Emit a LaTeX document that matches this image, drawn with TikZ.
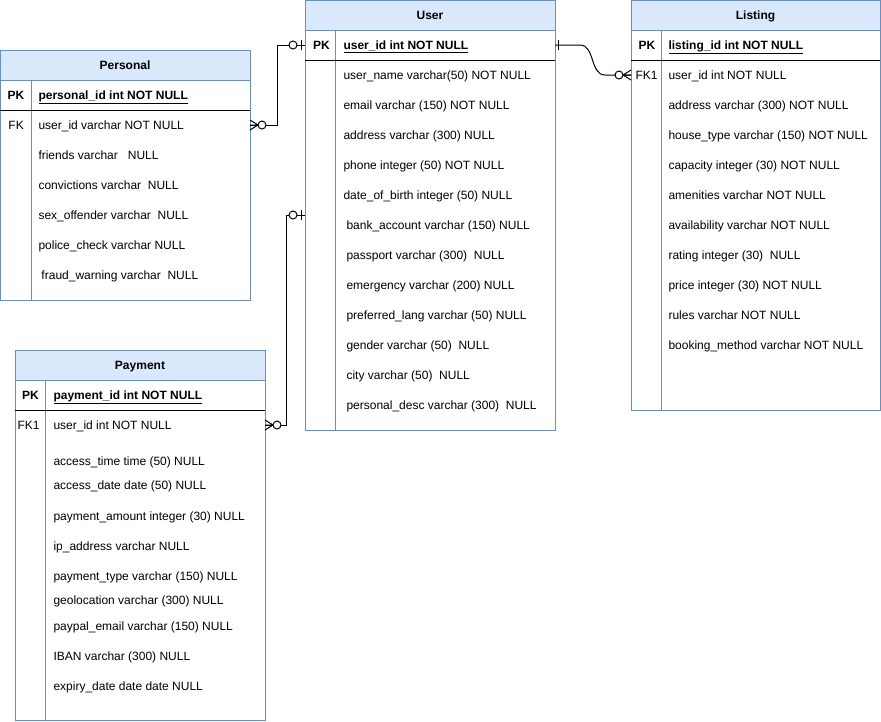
\documentclass[tikz,border=0pt]{standalone}
\usepackage{fontspec}
\setmainfont{Liberation Sans}
\definecolor{tblline}{HTML}{6C8EBF}
\definecolor{hdrfill}{HTML}{DAE8FC}
\begin{document}
\begin{tikzpicture}[x=1pt,y=-1pt,line width=1pt,
  tbl/.style={draw=tblline,fill=white,anchor=north west,inner sep=0pt,outer sep=0pt,minimum width=250pt},
  hdr/.style={draw=tblline,fill=hdrfill,anchor=north west,inner sep=0pt,outer sep=0pt,minimum width=250pt,minimum height=30pt,text height=10.5pt,text depth=1.5pt,font=\fontsize{12}{14}\selectfont\bfseries},
  fld/.style={anchor=west,inner sep=0pt,text height=10.5pt,text depth=1.5pt,font=\fontsize{12}{14}\selectfont},
  pkf/.style={fld,font=\fontsize{12}{14}\selectfont\bfseries},
  sep/.style={draw=black,line width=1pt},
  div/.style={draw=tblline,line width=1pt},
  conn/.style={draw=black,line width=1pt},
  ermanyopt/.pic={\draw[conn] (8,0) -- (0,-5) (8,0) -- (0,0) (8,0) -- (0,5);
                  \draw[conn,fill=white] (12,0) circle[radius=4];},
  eroneopt/.pic={\draw[conn] (4,-5) -- (4,5);
                 \draw[conn,fill=white] (12,0) circle[radius=4];},
  erone/.pic={\draw[conn] (3,-5) -- (3,5);}
]
\useasboundingbox (0,0) rectangle (881,721);

% ---------- User ----------
\node[tbl,minimum height=430pt] (user) at (305,0) {};
\node[hdr] (user-h) at (305,0) {User};
\draw[div] (335,30) -- (335,430);
\draw[sep] (305,60) -- (555,60);
\node[pkf] (ukey) at (312.5,45) {PK};
\node[pkf] (upk) at (343,45) {\underline{user\_id int NOT NULL}};
\node[fld] (u1) at (343,75) {user\_name varchar(50) NOT NULL};
\node[fld] (u2) at (343,105) {email varchar (150) NOT NULL};
\node[fld] (u3) at (343,135) {address varchar (300) NULL};
\node[fld] (u4) at (343,165) {phone integer (50) NOT NULL};
\node[fld] (u5) at (343,195) {date\_of\_birth integer (50) NULL};
\node[fld] (u6) at (346,225) {bank\_account varchar (150) NULL};
\node[fld] (u7) at (346,255) {passport varchar (300)\ \ NULL};
\node[fld] (u8) at (346,285) {emergency varchar (200) NULL};
\node[fld] (u9) at (346,315) {preferred\_lang varchar (50) NULL};
\node[fld] (u10) at (346,345) {gender varchar (50)\ \ NULL};
\node[fld] (u11) at (346,375) {city varchar (50)\ \ NULL};
\node[fld] (u12) at (346,405) {personal\_desc varchar (300)\ \ NULL};

% ---------- Personal ----------
\node[tbl,minimum height=250pt] (personal) at (0,50) {};
\node[hdr] (personal-h) at (0,50) {Personal};
\draw[div] (31,80) -- (31,300);
\draw[sep] (0,110) -- (250,110);
\node[pkf] (pkey) at (7,95) {PK};
\node[pkf] (ppk) at (38,95) {\underline{personal\_id int NOT NULL}};
\node[fld] (pfk) at (8,125) {FK};
\node[fld] (p1) at (38,125) {user\_id varchar NOT NULL};
\node[fld] (p2) at (38,155) {friends varchar\ \ \ NULL};
\node[fld] (p3) at (38,185) {convictions varchar\ \ NULL};
\node[fld] (p4) at (38,215) {sex\_offender varchar\ \ NULL};
\node[fld] (p5) at (38,245) {police\_check varchar NULL};
\node[fld] (p6) at (41,275) {fraud\_warning varchar\ \ NULL};

% ---------- Payment ----------
\node[tbl,minimum height=370pt] (payment) at (15,350) {};
\node[hdr] (payment-h) at (15,350) {Payment};
\draw[div] (45,380) -- (45,720);
\draw[sep] (15,410) -- (265,410);
\node[pkf] (qkey) at (21.5,395) {PK};
\node[pkf] (qpk) at (53,395) {\underline{payment\_id int NOT NULL}};
\node[fld] (qfk) at (17,425) {FK1};
\node[fld] (q1) at (53,425) {user\_id int NOT NULL};
\node[fld] (q2) at (53,461) {access\_time time (50) NULL};
\node[fld] (q3) at (53,485) {access\_date date (50) NULL};
\node[fld] (q4) at (53,516) {payment\_amount integer (30) NULL};
\node[fld] (q5) at (53,546) {ip\_address varchar NULL};
\node[fld] (q6) at (53,576) {payment\_type varchar (150) NULL};
\node[fld] (q7) at (53,600) {geolocation varchar (300) NULL};
\node[fld] (q8) at (53,626) {paypal\_email varchar (150) NULL};
\node[fld] (q9) at (53,656) {IBAN varchar (300) NULL};
\node[fld] (q10) at (53,686) {expiry\_date date date NULL};

% ---------- Listing ----------
\node[tbl,minimum width=249pt,minimum height=410pt] (listing) at (631,0) {};
\node[hdr,minimum width=249pt] (listing-h) at (631,0) {Listing};
\draw[div] (661,30) -- (661,410);
\draw[sep] (631,60) -- (880,60);
\node[pkf] (lkey) at (638,45) {PK};
\node[pkf] (lpk) at (668,45) {\underline{listing\_id int NOT NULL}};
\node[fld] (lfk) at (635,75) {FK1};
\node[fld] (l1) at (668,75) {user\_id int NOT NULL};
\node[fld] (l2) at (668,105) {address varchar (300) NOT NULL};
\node[fld] (l3) at (668,135) {house\_type varchar (150) NOT NULL};
\node[fld] (l4) at (668,165) {capacity integer (30) NOT NULL};
\node[fld] (l5) at (668,195) {amenities varchar NOT NULL};
\node[fld] (l6) at (668,225) {availability varchar NOT NULL};
\node[fld] (l7) at (668,255) {rating integer (30)\ \ NULL};
\node[fld] (l8) at (668,285) {price integer (30) NOT NULL};
\node[fld] (l9) at (668,315) {rules varchar NOT NULL};
\node[fld] (l10) at (668,345) {booking\_method varchar NOT NULL};

% ---------- Connectors ----------
\coordinate (j1) at (277.5,0);
\coordinate (j2) at (286,0);
\coordinate (uin2) at (305,215);

\draw[conn] (personal.east |- p1) -- (j1 |- p1) -- (j1 |- upk) -- (user.west |- upk);
\pic at (personal.east |- p1) {ermanyopt};
\pic[xscale=-1] at (user.west |- upk) {eroneopt};

\draw[conn] (payment.east |- q1) -- (j2 |- q1) -- (j2 |- uin2) -- (uin2);
\pic at (payment.east |- q1) {ermanyopt};
\pic[xscale=-1] at (uin2) {eroneopt};

\draw[conn] (user.east |- upk) -- (580,45) .. controls (595,45) and (590,75) .. (605,75) -- (listing.west |- l1);
\pic at (user.east |- upk) {erone};
\pic[xscale=-1] at (listing.west |- l1) {ermanyopt};
\end{tikzpicture}
\end{document}
